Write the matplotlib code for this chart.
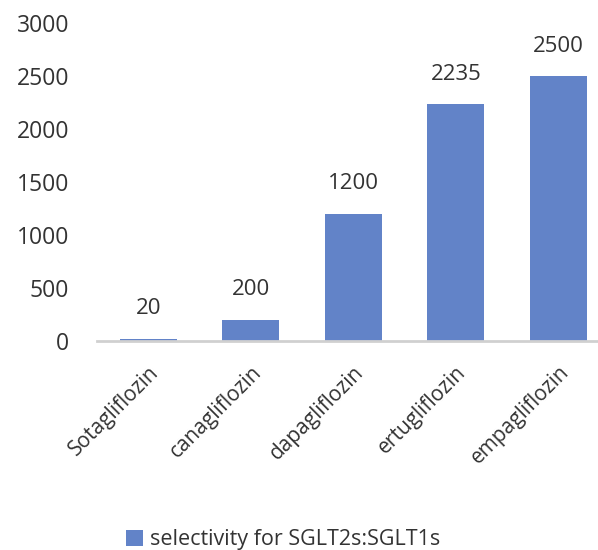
import matplotlib.pyplot as plt

plt.rcParams['font.family'] = ['Open Sans', 'DejaVu Sans']

drugs = ["Sotagliflozin", "canagliflozin", "dapagliflozin", "ertugliflozin", "empagliflozin"]
selectivity = [20, 200, 1200, 2235, 2500]
yticks = [0, 500, 1000, 1500, 2000, 2500, 3000]

bar_color = "#6283C8"
text_color = "#333333"

fig = plt.figure(figsize=(5.98, 5.5), dpi=100)
# axes runs a bit past the right edge of the figure
ax = fig.add_axes([97 / 598, 209 / 550, 512.5 / 598, 318 / 550])

x = range(len(drugs))
bars = ax.bar(x, selectivity, width=0.56, color=bar_color,
              label="selectivity for SGLT2s:SGLT1s", zorder=2)

for rect, val in zip(bars, selectivity):
    ax.annotate(str(val), (rect.get_x() + rect.get_width() / 2, val),
                xytext=(0, 30), textcoords="offset pixels",
                ha="center", va="center", fontsize=16, color=text_color)

ax.set_xlim(-0.5, 4.5)
ax.set_ylim(0, 3000)
ax.set_yticks(yticks)
ax.set_xticks(list(x))
ax.set_xticklabels(drugs, rotation=45, ha="right", rotation_mode="anchor",
                   fontsize=15, color=text_color)
ax.tick_params(axis="y", length=0, pad=20, labelsize=16.5, labelcolor=text_color)
ax.tick_params(axis="x", length=0, pad=15)

for side in ["top", "right", "left"]:
    ax.spines[side].set_visible(False)
ax.spines["bottom"].set_color("#D0D0D0")
ax.spines["bottom"].set_linewidth(2)
ax.spines["bottom"].set_zorder(3)

fig.legend(loc="center", bbox_to_anchor=(283 / 598, 1 - 540 / 550),
           frameon=False, fontsize=15.5, handlelength=0.8, handleheight=0.8,
           handletextpad=0.3, labelcolor=text_color)

fig.savefig("out.png", dpi=100)
